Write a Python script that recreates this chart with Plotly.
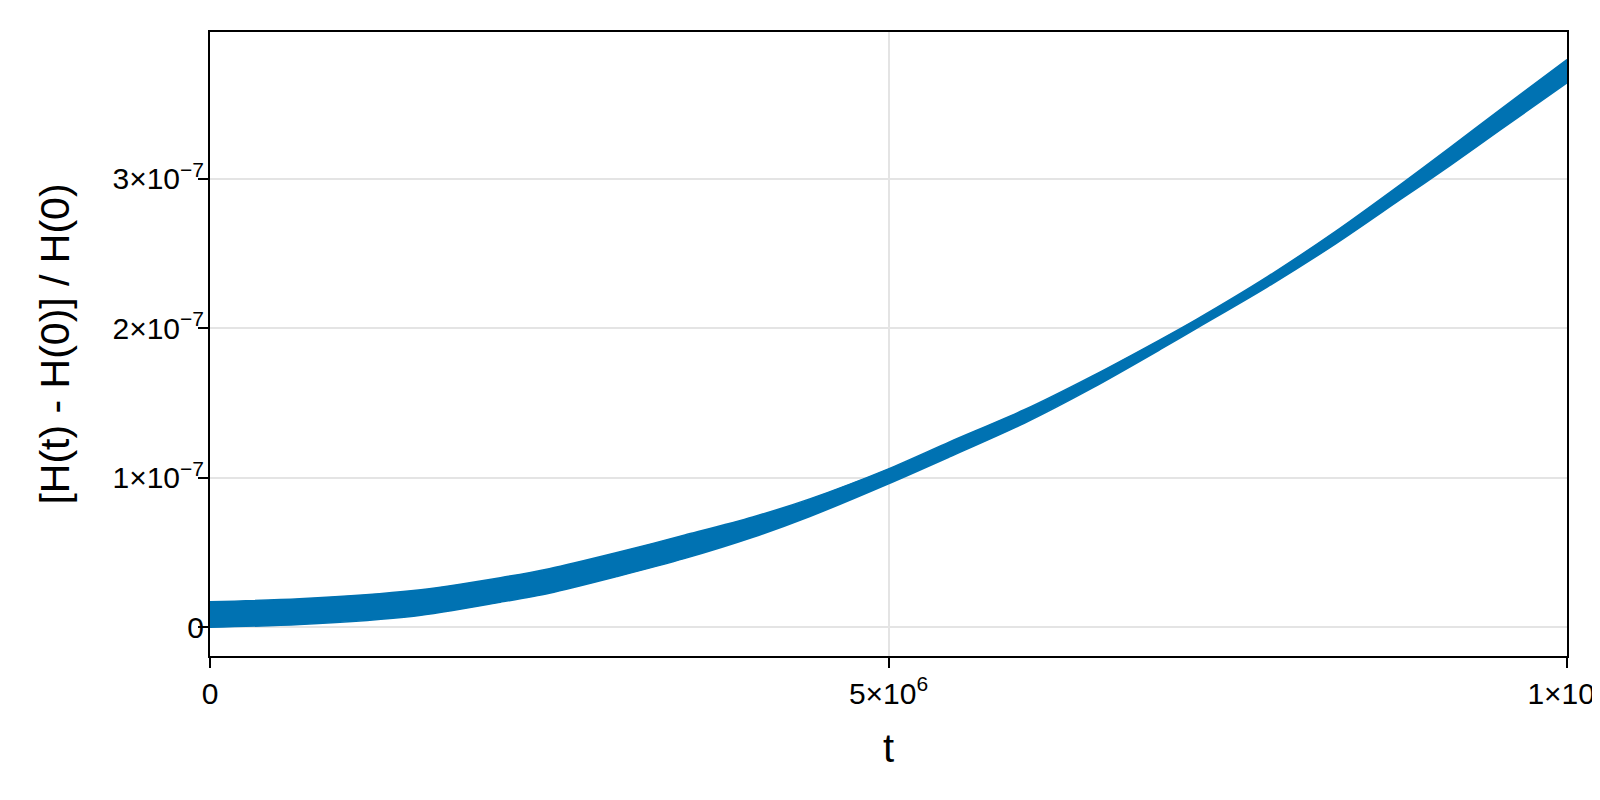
import plotly.graph_objects as go

# time samples (t) and envelope of the relative energy error band
t_vals = [0.0, 0.66e6, 1.5e6, 2.14e6, 2.5e6, 3.0e6, 3.5e6, 4.0e6, 4.42e6, 5.0e6, 5.45e6,
          6.0e6, 6.5e6, 7.0e6, 7.27e6, 7.79e6, 8.3e6, 8.77e6, 9.14e6, 9.5e6, 1.0e7]
upper_vals = [0.171e-7, 0.191e-7, 0.246e-7, 0.332e-7, 0.392e-7, 0.50e-7, 0.617e-7, 0.738e-7,
              0.859e-7, 1.06e-7, 1.24e-7, 1.455e-7, 1.68e-7, 1.923e-7, 2.06e-7, 2.344e-7,
              2.652e-7, 2.96e-7, 3.21e-7, 3.458e-7, 3.798e-7]
lower_vals = [0.000e-7, 0.019e-7, 0.074e-7, 0.168e-7, 0.228e-7, 0.34e-7, 0.461e-7, 0.602e-7,
              0.741e-7, 0.96e-7, 1.14e-7, 1.365e-7, 1.60e-7, 1.857e-7, 2.00e-7, 2.276e-7,
              2.568e-7, 2.86e-7, 3.09e-7, 3.322e-7, 3.642e-7]

x_tickvals = [0, 5e6, 1e7]
x_ticktext = ["0", "5×10<sup>6</sup>", "1×10<sup>7</sup>"]
y_tickvals = [0, 1e-7, 2e-7, 3e-7]
y_ticktext = ["0", "1×10<sup>−7</sup>", "2×10<sup>−7</sup>", "3×10<sup>−7</sup>"]

blue = "#0072B2"
font = "Liberation Sans, Arial, sans-serif"

fig = go.Figure()
fig.add_trace(go.Scatter(x=t_vals, y=lower_vals, mode="lines",
                         line=dict(color=blue, width=1.5, shape="spline", smoothing=0.8),
                         showlegend=False, hoverinfo="skip"))
fig.add_trace(go.Scatter(x=t_vals, y=upper_vals, mode="lines",
                         line=dict(color=blue, width=1.5, shape="spline", smoothing=0.8),
                         fill="tonexty", fillcolor=blue, showlegend=False, hoverinfo="skip"))

axis_common = dict(
    showline=True, linecolor="black", linewidth=2, mirror=True,
    ticks="outside", ticklen=10, tickwidth=2, tickcolor="black",
    showgrid=True, gridcolor="#e4e4e4", gridwidth=1.5, zeroline=False,
    tickfont=dict(family=font, size=30, color="black"),
    ticklabeloverflow="allow", automargin=False,
)

# the page body has an 8px margin, so margins are shifted to place the plot area
fig.update_layout(
    width=1600, height=800,
    paper_bgcolor="white", plot_bgcolor="white",
    margin=dict(l=202, r=41, t=24, b=152),
    font=dict(family=font, color="black"),
    xaxis=dict(range=[0, 1e7], tickvals=x_tickvals, ticktext=x_ticktext,
               title=dict(text="t", font=dict(family=font, size=40), standoff=25), **axis_common),
    yaxis=dict(range=[-0.192e-7, 3.982e-7], tickvals=y_tickvals, ticktext=y_ticktext,
               ticklabelstandoff=-12,
               title=dict(text="[H(t) - H(0)] / H(0)", font=dict(family=font, size=41), standoff=30),
               **axis_common),
)

fig.write_html("out.html")
